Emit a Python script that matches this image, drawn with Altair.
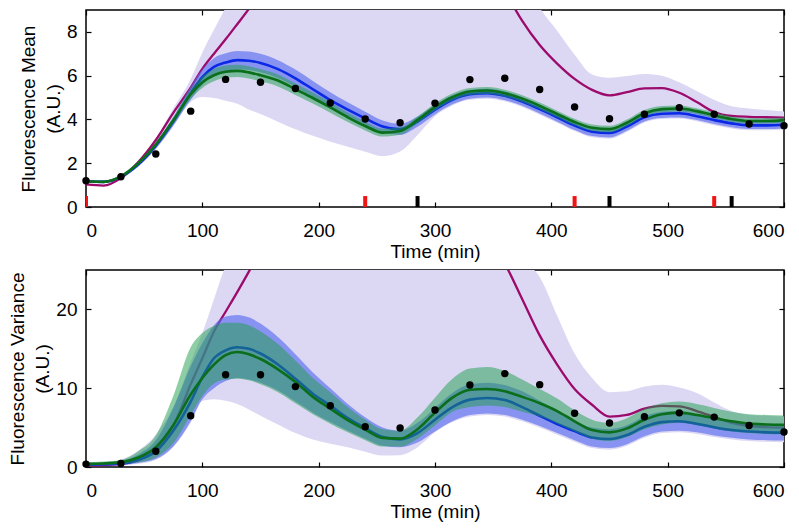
import altair as alt
import pandas as pd

# ---------------- shared grid ----------------
T = [0, 15, 30, 45, 60, 75, 90, 100, 110, 120, 130, 140, 150, 165, 180, 195, 210, 225,
     240, 255, 270, 285, 300, 315, 330, 345, 360, 375, 390, 405, 420, 435, 450, 465,
     480, 495, 510, 525, 540, 555, 570, 585, 600]
T_DOTS = [0, 30, 60, 90, 120, 150, 180, 210, 240, 270, 300, 330, 360, 390, 420, 450,
          480, 510, 540, 570, 600]
X_TICKS = [0, 100, 200, 300, 400, 500, 600]

# ---------------- top panel: mean ----------------
mean_green = [1.18, 1.15, 1.40, 2.00, 2.85, 3.95, 5.15, 5.70, 6.02, 6.18, 6.22, 6.15, 6.02,
              5.78, 5.38, 4.98, 4.55, 4.10, 3.70, 3.40, 3.47, 3.98, 4.57, 5.02, 5.28, 5.32,
              5.20, 4.95, 4.62, 4.25, 3.88, 3.62, 3.56, 3.85, 4.28, 4.47, 4.50, 4.38, 4.19,
              4.02, 3.93, 3.93, 3.97]
mean_green_lo = [1.13, 1.10, 1.34, 1.92, 2.75, 3.80, 4.93, 5.44, 5.74, 5.90, 5.94, 5.87, 5.74,
                 5.51, 5.12, 4.73, 4.31, 3.88, 3.50, 3.22, 3.30, 3.82, 4.41, 4.86, 5.12, 5.16,
                 5.04, 4.80, 4.47, 4.10, 3.73, 3.47, 3.41, 3.70, 4.13, 4.33, 4.36, 4.25, 4.06,
                 3.90, 3.81, 3.81, 3.85]
mean_green_hi = [1.23, 1.20, 1.46, 2.08, 2.95, 4.10, 5.37, 5.96, 6.30, 6.46, 6.50, 6.43, 6.30,
                 6.05, 5.64, 5.23, 4.79, 4.32, 3.90, 3.58, 3.64, 4.14, 4.73, 5.18, 5.44, 5.48,
                 5.36, 5.10, 4.77, 4.40, 4.03, 3.77, 3.71, 4.00, 4.43, 4.61, 4.64, 4.51, 4.32,
                 4.14, 4.05, 4.05, 4.09]
mean_blue = [1.18, 1.15, 1.38, 1.95, 2.80, 3.90, 5.20, 5.93, 6.40, 6.60, 6.71, 6.68, 6.58,
             6.30, 5.88, 5.38, 4.88, 4.45, 4.05, 3.68, 3.55, 3.90, 4.45, 4.90, 5.15, 5.20,
             5.08, 4.82, 4.47, 4.10, 3.72, 3.44, 3.38, 3.68, 4.10, 4.26, 4.28, 4.15, 3.97,
             3.82, 3.73, 3.73, 3.76]
mean_blue_lo = [1.13, 1.10, 1.31, 1.85, 2.66, 3.70, 4.90, 5.57, 6.00, 6.18, 6.29, 6.26, 6.16,
                5.89, 5.48, 5.00, 4.52, 4.12, 3.75, 3.41, 3.30, 3.67, 4.23, 4.69, 4.95, 5.00,
                4.88, 4.62, 4.27, 3.90, 3.52, 3.24, 3.18, 3.48, 3.91, 4.07, 4.09, 3.97, 3.79,
                3.64, 3.56, 3.56, 3.59]
mean_blue_hi = [1.23, 1.20, 1.45, 2.05, 2.94, 4.10, 5.50, 6.29, 6.80, 7.02, 7.13, 7.10, 7.00,
                6.71, 6.28, 5.76, 5.24, 4.78, 4.35, 3.95, 3.80, 4.13, 4.67, 5.11, 5.35, 5.40,
                5.28, 5.02, 4.67, 4.30, 3.92, 3.64, 3.58, 3.88, 4.29, 4.45, 4.47, 4.33, 4.15,
                4.00, 3.90, 3.90, 3.93]
mean_purple = [1.03, 0.98, 1.32, 2.05, 3.06, 4.30, 5.45, 6.31, 7.00, 7.66, 8.35, 9.05, 9.80,
               10.8, 11.5, 12.0, 12.0, 12.0, 12.0, 12.0, 12.0, 12.0, 12.0, 12.0, 12.0, 11.5,
               9.9, 8.5, 7.4, 6.55, 5.85, 5.35, 5.10, 5.25, 5.42, 5.43, 5.22, 4.80, 4.34,
               4.16, 4.12, 4.10, 4.08]
mean_lav_lo = [1.10, 1.08, 1.30, 1.85, 2.65, 3.70, 4.80, 5.02, 4.98, 4.85, 4.72, 4.45, 4.25,
               3.90, 3.55, 3.25, 2.98, 2.75, 2.52, 2.32, 2.53, 3.29, 4.15, 4.64, 4.90, 4.95,
               4.83, 4.57, 4.22, 3.85, 3.47, 3.19, 3.13, 3.43, 3.86, 4.02, 4.04, 3.92, 3.74,
               3.59, 3.51, 3.51, 3.54]
mean_lav_hi = [1.25, 1.22, 1.48, 2.12, 3.10, 4.50, 5.85, 7.06, 8.10, 9.10, 10.0, 10.5, 11.0,
               11.5, 12.0, 12.0, 12.0, 12.0, 12.0, 12.0, 12.0, 12.0, 12.0, 12.0, 12.0, 12.0,
               12.0, 10.5, 9.10, 8.05, 6.95, 6.05, 5.90, 5.98, 6.08, 6.00, 5.70, 5.30, 4.90,
               4.60, 4.50, 4.43, 4.36]
mean_dots = [1.20, 1.38, 2.42, 4.38, 5.83, 5.70, 5.41, 4.75, 4.02, 3.85, 4.74, 5.82, 5.88,
             5.37, 4.57, 4.03, 4.24, 4.54, 4.24, 3.79, 3.71]
red_marks = [0, 240, 420, 540]
black_marks = [285, 450, 555]

# ---------------- bottom panel: variance ----------------
var_green = [0.40, 0.45, 0.60, 1.20, 2.50, 5.30, 9.20, 11.3, 13.0, 14.2, 14.6, 14.3, 13.7,
             12.4, 10.8, 8.9, 7.4, 5.95, 4.75, 3.70, 3.60, 4.80, 6.90, 8.80, 9.80, 9.90,
             9.60, 8.90, 8.10, 7.10, 5.80, 4.70, 4.40, 4.90, 6.00, 6.70, 6.90, 6.60, 6.20,
             5.80, 5.50, 5.40, 5.35]
var_green_lo = [0.20, 0.25, 0.35, 0.60, 1.20, 3.00, 6.60, 9.00, 10.6, 11.1, 11.2, 11.0, 10.5,
                9.50, 8.10, 6.70, 5.50, 4.40, 3.40, 2.60, 2.60, 3.60, 5.30, 7.00, 7.60, 7.80,
                7.60, 7.00, 6.40, 5.50, 4.50, 3.60, 3.30, 3.80, 4.80, 5.40, 5.60, 5.30, 4.90,
                4.50, 4.30, 4.20, 4.15]
var_green_hi = [0.60, 0.70, 0.90, 2.00, 4.00, 9.00, 15.2, 17.0, 17.9, 18.3, 18.3, 18.0, 17.2,
                15.6, 13.5, 11.3, 9.50, 7.60, 6.00, 4.80, 4.60, 6.30, 8.80, 11.2, 12.5, 12.7,
                12.2, 11.1, 9.90, 8.70, 7.20, 6.00, 5.60, 6.20, 7.40, 8.10, 8.30, 8.00, 7.50,
                7.00, 6.70, 6.60, 6.55]
var_blue = [0.30, 0.35, 0.45, 0.90, 2.00, 4.60, 8.30, 11.4, 13.8, 14.8, 15.2, 15.0, 14.4,
            13.0, 11.2, 9.30, 7.80, 6.20, 4.95, 3.80, 3.50, 4.30, 6.00, 7.60, 8.55, 8.75,
            8.50, 7.60, 6.50, 5.45, 4.55, 3.75, 3.55, 4.05, 5.10, 5.70, 5.80, 5.50, 5.05,
            4.70, 4.50, 4.40, 4.36]
var_blue_lo = [0.15, 0.20, 0.25, 0.50, 1.00, 2.60, 5.80, 8.60, 10.0, 10.9, 11.3, 11.1, 10.7,
               9.70, 8.30, 6.90, 5.70, 4.60, 3.60, 2.70, 2.50, 3.10, 4.50, 5.80, 6.60, 6.80,
               6.60, 6.00, 5.20, 4.30, 3.40, 2.60, 2.40, 2.90, 3.90, 4.50, 4.60, 4.40, 4.00,
               3.70, 3.50, 3.40, 3.35]
var_blue_hi = [0.50, 0.55, 0.80, 1.60, 3.40, 7.50, 12.8, 15.7, 18.0, 19.1, 19.3, 19.0, 18.2,
               16.5, 14.3, 12.0, 10.0, 8.00, 6.30, 5.00, 4.60, 5.60, 7.50, 9.40, 10.5, 10.7,
               10.4, 9.60, 8.40, 7.20, 5.90, 5.00, 4.80, 5.30, 6.40, 7.00, 7.10, 6.80, 6.20,
               5.80, 5.60, 5.50, 5.45]
var_purple = [0.20, 0.25, 0.40, 0.90, 2.20, 5.20, 10.5, 13.8, 17.2, 19.7, 22.2, 24.8, 27.5,
              30.0, 30.0, 30.0, 30.0, 30.0, 30.0, 30.0, 30.0, 30.0, 30.0, 30.0, 30.0, 29.0,
              25.8, 21.3, 16.7, 13.0, 9.90, 7.90, 6.40, 6.60, 7.40, 7.75, 7.70, 7.10, 6.35,
              5.60, 5.20, 5.05, 4.97]
var_lav_lo = [0.10, 0.15, 0.20, 0.40, 0.90, 2.50, 5.60, 8.40, 8.60, 8.40, 8.00, 7.30, 6.50,
              5.40, 4.30, 3.50, 2.95, 2.50, 1.95, 1.45, 1.50, 2.50, 4.40, 5.70, 6.40, 6.60,
              6.40, 5.80, 5.00, 4.10, 3.20, 2.40, 2.20, 2.70, 3.70, 4.30, 4.40, 4.20, 3.80,
              3.50, 3.30, 3.20, 3.15]
var_lav_hi = [0.55, 0.60, 0.95, 2.10, 4.10, 7.60, 13.3, 17.0, 21.3, 25.5, 28.0, 30.0, 30.0,
              30.0, 30.0, 30.0, 30.0, 30.0, 30.0, 30.0, 30.0, 30.0, 30.0, 30.0, 30.0, 30.0,
              30.0, 26.5, 24.1, 19.2, 14.4, 11.3, 9.50, 9.60, 10.2, 10.45, 10.1, 9.40, 8.20,
              7.10, 6.60, 6.50, 6.40]
var_dots = [0.37, 0.45, 2.00, 6.50, 11.7, 11.7, 10.2, 7.78, 5.10, 4.94, 7.24, 10.4, 11.85,
            10.45, 6.83, 5.59, 6.37, 6.87, 6.33, 5.26, 4.44]

# ---------------- styles ----------------
LAV = "#dcd8f4"
BLUE_BAND = "#5a6ff0"
GREEN_BAND = "#1c9e4a"
BLUE_LINE = "#0a28e6"
GREEN_LINE = "#0b6e1b"
PURPLE_LINE = "#9c0a6c"
FONT = "Liberation Sans"
W, H = 698, 197


def panel(mid_g, lo_g, hi_g, mid_b, lo_b, hi_b, pur, lav_lo, lav_hi, dots,
          ymax, yticks, ytitle, marks=None):
    df = pd.DataFrame({
        "t": T, "g": mid_g, "g_lo": lo_g, "g_hi": hi_g,
        "b": mid_b, "b_lo": lo_b, "b_hi": hi_b, "p": pur,
        "l_lo": lav_lo, "l_hi": lav_hi,
    })
    ddf = pd.DataFrame({"t": T_DOTS, "v": dots})
    xs = alt.Scale(domain=[0, 600], nice=False, zero=False)
    ys = alt.Scale(domain=[0, ymax], nice=False, zero=False)
    xn = alt.X("t:Q", scale=xs, axis=None)

    def yn(f):
        return alt.Y(f, scale=ys, axis=None)

    base = alt.Chart(df)
    lav = base.mark_area(color=LAV, clip=True, interpolate="monotone").encode(
        x=alt.X("t:Q", scale=xs,
                axis=alt.Axis(values=X_TICKS, orient="bottom", offset=-5, tickSize=5,
                              domain=False, labelPadding=14, title="Time (min)",
                              titlePadding=2, titleFontSize=19)),
        y=alt.Y("l_lo:Q", scale=ys,
                axis=alt.Axis(values=yticks, orient="left", offset=-5, tickSize=5,
                              domain=False, labelPadding=9, title=ytitle,
                              titlePadding=3, titleFontSize=19)),
        y2="l_hi:Q",
    )
    pline = base.mark_line(color=PURPLE_LINE, strokeWidth=2.3, clip=True,
                           interpolate="monotone").encode(x=xn, y=yn("p:Q"))
    bband = base.mark_area(color=BLUE_BAND, opacity=0.65, clip=True,
                           interpolate="monotone").encode(x=xn, y=yn("b_lo:Q"), y2="b_hi:Q")
    bline = base.mark_line(color=BLUE_LINE, strokeWidth=2.6, clip=True,
                           interpolate="monotone").encode(x=xn, y=yn("b:Q"))
    gband = base.mark_area(color=GREEN_BAND, opacity=0.5, clip=True,
                           interpolate="monotone").encode(x=xn, y=yn("g_lo:Q"), y2="g_hi:Q")
    gline = base.mark_line(color=GREEN_LINE, strokeWidth=2.6, clip=True,
                           interpolate="monotone").encode(x=xn, y=yn("g:Q"))
    pts = alt.Chart(ddf).mark_circle(size=55, color="black", opacity=1).encode(
        x=alt.X("t:Q", scale=xs,
                axis=alt.Axis(values=X_TICKS, orient="top", offset=-5, tickSize=5,
                              domain=False, labels=False, title=None)),
        y=alt.Y("v:Q", scale=ys,
                axis=alt.Axis(values=yticks, orient="right", offset=-5, tickSize=5,
                              domain=False, labels=False, title=None)),
    )
    layers = [lav, pline, bband, bline, gband, gline]
    if marks is not None:
        mdf = pd.DataFrame({"t": marks[0] + marks[1],
                            "kind": ["red"] * len(marks[0]) + ["black"] * len(marks[1])})
        mk = alt.Chart(mdf).mark_rule(strokeWidth=4, clip=True).encode(
            x=xn,
            y=alt.YDatum(0, axis=None, scale=ys),
            y2=alt.Y2Datum(0.5),
            color=alt.Color("kind:N", legend=None,
                            scale=alt.Scale(domain=["red", "black"],
                                            range=["#f01414", "#000000"])),
        )
        layers.append(mk)
    layers.append(pts)
    return alt.layer(*layers).resolve_axis(x="independent", y="independent").properties(
        width=W, height=H)


top = panel(mean_green, mean_green_lo, mean_green_hi, mean_blue, mean_blue_lo, mean_blue_hi,
            mean_purple, mean_lav_lo, mean_lav_hi, mean_dots, 9, [0, 2, 4, 6, 8],
            ["Fluorescence Mean", "(A.U.)"], marks=(red_marks, black_marks))
bottom = panel(var_green, var_green_lo, var_green_hi, var_blue, var_blue_lo, var_blue_hi,
               var_purple, var_lav_lo, var_lav_hi, var_dots, 25, [0, 10, 20],
               ["Fluorescence Variance", "(A.U.)"])

chart = alt.vconcat(top, bottom, spacing=6).properties(
    padding={"left": 0, "top": 0, "right": 0, "bottom": 0}
).configure_view(
    stroke="black", strokeWidth=1.5
).configure_axis(
    labelFont=FONT, labelFontSize=19, labelColor="black",
    titleFont=FONT, titleFontWeight="normal", titleColor="black",
    titleLineHeight=25,
    tickColor="black", tickWidth=1.2, grid=False,
)

chart.save("out.html", embed_options={"renderer": "svg", "actions": False})
